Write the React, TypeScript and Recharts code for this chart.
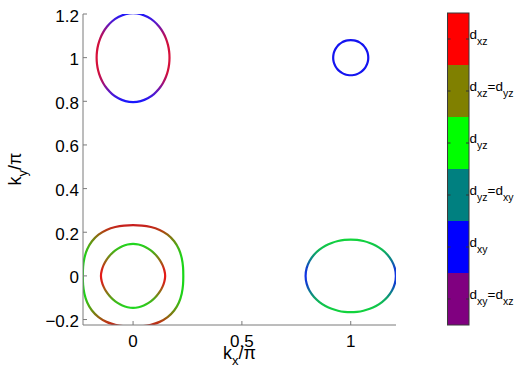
import React from 'react';
import { LineChart, Line, XAxis, YAxis } from 'recharts';

// Fermi surface pockets: radius (in units of pi) sampled every 10 deg over the
// first quadrant (0..90 deg); the other quadrants follow by mirror symmetry.
const SAMPLE_DEG = [0, 10, 20, 30, 40, 50, 60, 70, 80, 90];

const POCKET_M_TOP = { cx: 0, cy: 1, r: [0.168, 0.1688, 0.1713, 0.1754, 0.1807, 0.187, 0.1935, 0.1993, 0.2034, 0.205] };
const POCKET_M_CORNER = { cx: 1, cy: 1, r: [0.081, 0.081, 0.081, 0.081, 0.081, 0.081, 0.081, 0.081, 0.081, 0.081] };
const POCKET_X = { cx: 1, cy: 0, r: [0.209, 0.2072, 0.2024, 0.1956, 0.1882, 0.1811, 0.1751, 0.1707, 0.1679, 0.167] };
const POCKET_G_OUTER = { cx: 0, cy: 0, r: [0.231, 0.234, 0.239, 0.245, 0.2485, 0.2485, 0.245, 0.2395, 0.235, 0.233] };
const POCKET_G_INNER = { cx: 0, cy: 0, r: [0.149, 0.1467, 0.1449, 0.1433, 0.1425, 0.1425, 0.1433, 0.1449, 0.1467, 0.148] };

const X_TICKS = [0, 0.5, 1];
const Y_TICKS = [-0.2, 0, 0.2, 0.4, 0.6, 0.8, 1, 1.2];

// colorbar, top to bottom
const BAR_COLORS = ['#ff0000', '#808000', '#00ff00', '#008080', '#0000ff', '#800080'];
const BAR_LABELS = [['xz'], ['xz', 'yz'], ['yz'], ['yz', 'xy'], ['xy'], ['xy', 'xz']];

const FONT = '"Liberation Sans", Arial, Helvetica, sans-serif';
const AXIS_GRAY = '#7a7a7a';

type Pocket = { cx: number; cy: number; r: number[] };

const buildLoop = (p: Pocket) => {
  const pts: { x: number; y: number }[] = [];
  for (let q = 0; q < 4; q++) {
    for (let i = 0; i < SAMPLE_DEG.length - 1; i++) {
      const deg = q * 90 + SAMPLE_DEG[i];
      const k = q % 2 === 0 ? i : SAMPLE_DEG.length - 1 - i;
      const a = (deg * Math.PI) / 180;
      pts.push({ x: p.cx + p.r[k] * Math.cos(a), y: p.cy + p.r[k] * Math.sin(a) });
    }
  }
  return pts;
};

const fmt = (v: number) => (v < 0 ? '\u2212' + String(-v) : String(v));

const XTick = (props: any) => {
  const { x, y, payload } = props;
  return (
    <g>
      <line x1={x} x2={x} y1={y} y2={y - 4} stroke={AXIS_GRAY} />
      <text x={x} y={y + 22} textAnchor="middle" fontSize={17} fontFamily={FONT} fill="#000">
        {fmt(payload.value)}
      </text>
    </g>
  );
};

const YTick = (props: any) => {
  const { x, y, payload } = props;
  return (
    <g>
      <line x1={x} x2={x + 4} y1={y} y2={y} stroke={AXIS_GRAY} />
      <text x={x - 4} y={y + 7.5} textAnchor="end" fontSize={17} fontFamily={FONT} fill="#000">
        {fmt(payload.value)}
      </text>
    </g>
  );
};

const Grad = ({ id, stops }: { id: string; stops: [number, string][] }) => (
  <linearGradient id={id} x1="0" y1="0" x2="0" y2="1">
    {stops.map(([o, c], i) => (
      <stop key={i} offset={o} stopColor={c} />
    ))}
  </linearGradient>
);

const mirror = (half: [number, string][]): [number, string][] => [
  ...half,
  ...half
    .slice(0, -1)
    .reverse()
    .map(([o, c]) => [1 - o, c] as [number, string]),
];

const ColorBar = () => {
  const x0 = 447.5;
  const w = 21.5;
  const top = 13;
  const h = 52;
  return (
    <svg width={520} height={377} style={{ position: 'absolute', left: 0, top: 0 }}>
      {BAR_COLORS.map((c, i) => (
        <rect key={c} x={x0} y={top + i * h} width={w} height={h} fill={c} />
      ))}
      <rect x={x0} y={top} width={w} height={h * 6} fill="none" stroke="#3a3a3a" strokeWidth={1} />
      {BAR_LABELS.map((lab, i) => {
        const ty = top + i * h + h / 2;
        return (
          <g key={i}>
            <line x1={x0} x2={x0 + 3} y1={ty} y2={ty} stroke="#333" />
            <line x1={x0 + w - 3} x2={x0 + w} y1={ty} y2={ty} stroke="#333" />
            <text x={x0 + w + 0.5} y={ty} fontFamily={FONT} fill="#000">
              <tspan fontSize={13.5}>d</tspan>
              <tspan fontSize={10.5} dy={6}>{lab[0]}</tspan>
              {lab[1] && (
                <>
                  <tspan fontSize={13.5} dy={-6}>=d</tspan>
                  <tspan fontSize={10.5} dy={6}>{lab[1]}</tspan>
                </>
              )}
            </text>
          </g>
        );
      })}
      <text x={223} y={359} fontFamily={FONT} fill="#000">
        <tspan fontSize={18}>k</tspan>
        <tspan fontSize={13} dy={6}>x</tspan>
        <tspan fontSize={18} dy={-6}>/π</tspan>
      </text>
      <text transform="translate(21,169) rotate(-90)" textAnchor="middle" fontFamily={FONT} fill="#000">
        <tspan fontSize={18}>k</tspan>
        <tspan fontSize={13} dy={6}>y</tspan>
        <tspan fontSize={18} dy={-6}>/π</tspan>
      </text>
    </svg>
  );
};

const pockets = [
  { id: 'gMtop', data: buildLoop(POCKET_M_TOP), stroke: 'url(#gMtop)' },
  { id: 'gMcorner', data: buildLoop(POCKET_M_CORNER), stroke: '#1414f0' },
  { id: 'gX', data: buildLoop(POCKET_X), stroke: 'url(#gX)' },
  { id: 'gOuter', data: buildLoop(POCKET_G_OUTER), stroke: 'url(#gOuter)' },
  { id: 'gInner', data: buildLoop(POCKET_G_INNER), stroke: 'url(#gInner)' },
];

export default function App() {
  return (
    <div style={{ position: 'absolute', left: 0, top: 0, width: 520, height: 377, background: '#fff' }}>
      <LineChart width={520} height={377} margin={{ top: 14, right: 124, bottom: 0, left: 0 }}>
        <defs>
          <Grad id="gMtop" stops={mirror([[0, '#1818ff'], [0.11, '#5a18c8'], [0.22, '#a81070'], [0.33, '#d0103c'], [0.5, '#d8103a']])} />
          <Grad id="gX" stops={mirror([[0, '#12d43c'], [0.12, '#10c050'], [0.25, '#0c8a80'], [0.38, '#1044c8'], [0.5, '#1030e8']])} />
          <Grad id="gOuter" stops={mirror([[0, '#c81e1e'], [0.05, '#b83a14'], [0.1, '#8c6c10'], [0.2, '#50a814'], [0.3, '#20d018'], [0.5, '#18d818']])} />
          <Grad id="gInner" stops={mirror([[0, '#20d820'], [0.12, '#48b018'], [0.25, '#907014'], [0.38, '#d02818'], [0.5, '#e81818']])} />
        </defs>
        <XAxis
          type="number"
          dataKey="x"
          domain={[-0.23, 1.208]}
          allowDataOverflow
          ticks={X_TICKS}
          height={52}
          tickSize={0}
          tickMargin={0}
          tickLine={false}
          stroke={AXIS_GRAY}
          tick={<XTick />}
        />
        <YAxis
          type="number"
          dataKey="y"
          domain={[-0.225, 1.2]}
          allowDataOverflow
          ticks={Y_TICKS}
          width={83}
          tickSize={0}
          tickMargin={0}
          tickLine={false}
          stroke={AXIS_GRAY}
          tick={<YTick />}
        />
        {pockets.map((p) => (
          <Line
            key={p.id}
            name={p.id}
            data={p.data}
            dataKey="y"
            type="basisClosed"
            stroke={p.stroke}
            strokeWidth={2.2}
            dot={false}
            activeDot={false}
            isAnimationActive={false}
          />
        ))}
      </LineChart>
      <ColorBar />
    </div>
  );
}
